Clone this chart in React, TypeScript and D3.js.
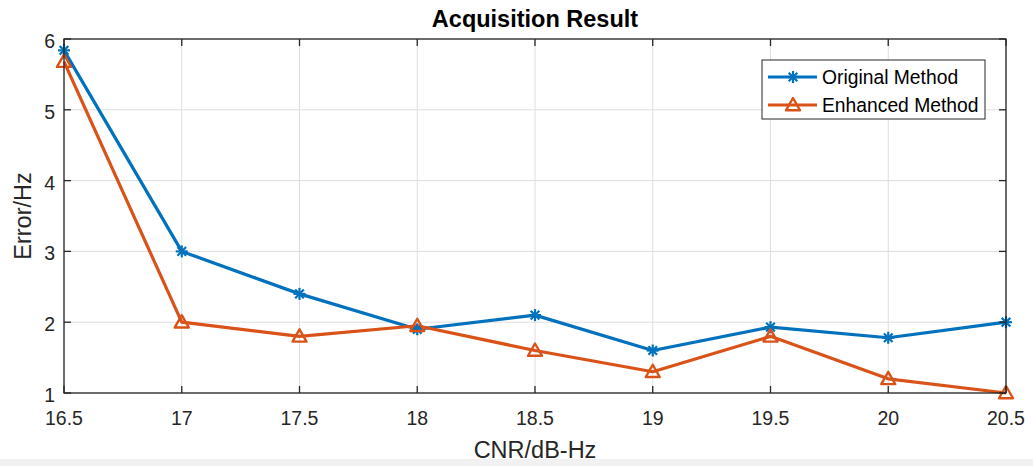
import React from 'react';
import * as d3 from 'd3';

// CNR values (dB-Hz)
const cnr = [16.5, 17, 17.5, 18, 18.5, 19, 19.5, 20, 20.5];
const originalErr = [5.84, 3.0, 2.4, 1.9, 2.1, 1.6, 1.93, 1.78, 2.0];
const enhancedErr = [5.68, 2.0, 1.8, 1.95, 1.6, 1.3, 1.8, 1.2, 1.0];
const xTicks = [16.5, 17, 17.5, 18, 18.5, 19, 19.5, 20, 20.5];
const yTicks = [1, 2, 3, 4, 5, 6];
const seriesNames = ['Original Method', 'Enhanced Method'];

const W = 1033;
const H = 466;
const margin = {top: 39, right: 27, bottom: 73, left: 64};
const BLUE = '#0072BD';
const ORANGE = '#D95319';
const FONT = 'Liberation Sans, Arial, Helvetica, sans-serif';

function Star({x, y, color}: {x: number; y: number; color: string}) {
  const r = 6;
  const d = r * 0.72;
  return (
    <g stroke={color} strokeWidth={2.2}>
      <line x1={x - r} y1={y} x2={x + r} y2={y} />
      <line x1={x} y1={y - r} x2={x} y2={y + r} />
      <line x1={x - d} y1={y - d} x2={x + d} y2={y + d} />
      <line x1={x - d} y1={y + d} x2={x + d} y2={y - d} />
    </g>
  );
}

function Tri({x, y, color}: {x: number; y: number; color: string}) {
  const s = 7;
  const pts = `${x},${y - s} ${x + s},${y + s * 0.75} ${x - s},${y + s * 0.75}`;
  return <polygon points={pts} fill="none" stroke={color} strokeWidth={2.4} strokeLinejoin="round" />;
}

export default function App() {
  const iw = W - margin.left - margin.right;
  const ih = H - margin.top - margin.bottom;
  const x = d3.scaleLinear().domain([16.5, 20.5]).range([margin.left, margin.left + iw]);
  const y = d3.scaleLinear().domain([1, 6]).range([margin.top + ih, margin.top]);

  const line = d3
    .line<number>()
    .x((d, i) => x(cnr[i]))
    .y(d => y(d));

  const left = margin.left;
  const right = margin.left + iw;
  const top = margin.top;
  const bottom = margin.top + ih;
  const tick = 7;

  const legX = 762;
  const legY = 60;

  return (
    <div style={{position: 'fixed', left: 0, top: 0}}>
      <svg width={W} height={H} style={{display: 'block', background: '#fff'}} fontFamily={FONT}>
        <rect x={0} y={459} width={W} height={7} fill="#f1f1f1" />
        {/* grid */}
        <g stroke="#dedede" strokeWidth={1}>
          {xTicks.map(t => (
            <line key={'gx' + t} x1={x(t)} x2={x(t)} y1={top} y2={bottom} />
          ))}
          {yTicks.map(t => (
            <line key={'gy' + t} x1={left} x2={right} y1={y(t)} y2={y(t)} />
          ))}
        </g>

        {/* series */}
        <path d={line(originalErr) || ''} fill="none" stroke={BLUE} strokeWidth={3.2} strokeLinejoin="round" />
        <path d={line(enhancedErr) || ''} fill="none" stroke={ORANGE} strokeWidth={3.2} strokeLinejoin="round" />
        {originalErr.map((v, i) => (
          <Star key={'s' + i} x={x(cnr[i])} y={y(v)} color={BLUE} />
        ))}
        {enhancedErr.map((v, i) => (
          <Tri key={'t' + i} x={x(cnr[i])} y={y(v)} color={ORANGE} />
        ))}

        {/* axes box */}
        <rect x={left} y={top} width={iw} height={ih} fill="none" stroke="#262626" strokeWidth={1.3} />
        <g stroke="#262626" strokeWidth={1.3}>
          {xTicks.map(t => (
            <g key={'tx' + t}>
              <line x1={x(t)} x2={x(t)} y1={bottom} y2={bottom - tick} />
              <line x1={x(t)} x2={x(t)} y1={top} y2={top + tick} />
            </g>
          ))}
          {yTicks.map(t => (
            <g key={'ty' + t}>
              <line x1={left} x2={left + tick} y1={y(t)} y2={y(t)} />
              <line x1={right} x2={right - tick} y1={y(t)} y2={y(t)} />
            </g>
          ))}
        </g>

        {/* tick labels */}
        <g fill="#262626" fontSize={19.5}>
          {xTicks.map(t => (
            <text key={'lx' + t} x={x(t)} y={bottom + 32} textAnchor="middle">
              {d3.format('')(t)}
            </text>
          ))}
          {yTicks.map(t => (
            <text key={'ly' + t} x={left - 9} y={y(t) + 9} textAnchor="end">
              {t}
            </text>
          ))}
        </g>

        {/* labels */}
        <text x={(left + right) / 2} y={27} textAnchor="middle" fontWeight="bold" fontSize={23.5} fill="#000">
          Acquisition Result
        </text>
        <text x={(left + right) / 2} y={458} textAnchor="middle" fontSize={23.5} fill="#262626">
          CNR/dB-Hz
        </text>
        <text
          transform={`translate(31,${(top + bottom) / 2}) rotate(-90)`}
          textAnchor="middle"
          fontSize={23.5}
          fill="#262626"
        >
          Error/Hz
        </text>

        {/* legend */}
        <rect x={legX} y={legY} width={223} height={59} fill="#fff" stroke="#262626" strokeWidth={1} />
        {seriesNames.map((name, i) => {
          const cy = legY + 17 + i * 28;
          const color = i === 0 ? BLUE : ORANGE;
          return (
            <g key={name}>
              <line x1={legX + 6} x2={legX + 55} y1={cy} y2={cy} stroke={color} strokeWidth={3.2} />
              {i === 0 ? <Star x={legX + 31} y={cy} color={color} /> : <Tri x={legX + 31} y={cy} color={color} />}
              <text x={legX + 60} y={cy + 7} fontSize={19.3} fill="#000">
                {name}
              </text>
            </g>
          );
        })}
      </svg>
    </div>
  );
}
